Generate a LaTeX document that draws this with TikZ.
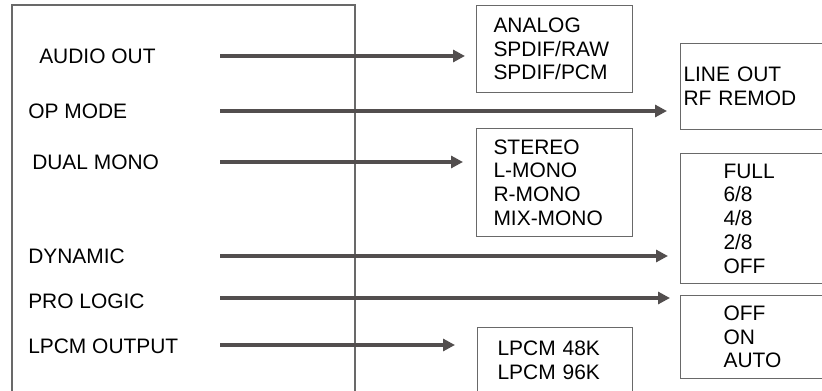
\documentclass[tikz,border=0pt]{standalone}
\usepackage{fontspec}
\setmainfont{Liberation Sans}
\definecolor{boxgray}{RGB}{105, 105, 105}
\definecolor{arrgray}{RGB}{82, 78, 78}
\usetikzlibrary{arrows.meta, positioning, calc}

\begin{document}
\begin{tikzpicture}[
  x=0.75pt, y=-0.75pt,
  font=\fontsize{15.7}{17.8}\selectfont,
  lbl/.style={anchor=west, inner sep=0pt},
  optbox/.style={draw=boxgray, line width=0.8pt, anchor=north west, align=left, inner ysep=0pt},
  arr/.style={draw=arrgray, line width=3pt, -{Triangle[length=9pt, width=9pt]}}
]
  \clip (0,0) rectangle (822,391);

  % menu frame, open at the bottom
  \draw[boxgray, line width=0.8pt] (12,400) |- (355,5) -- (355,400);

  % menu items
  \node[lbl] (audio) at (39,56)  {AUDIO OUT};
  \node[lbl] (opmode) at (28,111) {OP MODE};
  \node[lbl] (dual) at (32,162) {DUAL MONO};
  \node[lbl] (dyn) at (28,256) {DYNAMIC};
  \node[lbl] (prolog) at (28,301) {PRO LOGIC};
  \node[lbl] (lpcm) at (28,346) {LPCM OUTPUT};

  % option boxes
  \node[optbox, minimum width=117pt, minimum height=65.25pt, inner xsep=12.75pt, text width=91.5pt] (anlg) at (476,5) {
    ANALOG\\ SPDIF/RAW\\ SPDIF/PCM};
  \node[optbox, minimum width=150pt, minimum height=64.5pt, inner xsep=2.25pt, text width=145.5pt] (lineout) at (680,43) {
    LINE OUT\\ RF REMOD};
  \node[optbox, minimum width=117pt, minimum height=81pt, inner xsep=12.75pt, text width=91.5pt] (stereo) at (476,128) {
    STEREO\\ L-MONO\\ R-MONO\\ MIX-MONO};
  \node[optbox, minimum width=150pt, minimum height=97.5pt, inner xsep=32.25pt, text width=85.5pt] (full) at (680,153) {
    FULL\\ 6/8\\ 4/8\\ 2/8\\ OFF};
  \node[optbox, minimum width=150pt, minimum height=62.25pt, inner xsep=32.25pt, text width=85.5pt] (onoff) at (680,295) {
    OFF\\ ON\\ AUTO};
  \node[optbox, minimum width=116.25pt, minimum height=49.5pt, inner xsep=15pt, text width=86.25pt] (rate) at (477,327) {
    LPCM 48K\\ LPCM 96K};

  % arrows
  \coordinate (a1) at (220,56);
  \coordinate (a2) at (220,111);
  \coordinate (a3) at (220,162);
  \coordinate (a4) at (220,256);
  \coordinate (a5) at (220,298);
  \coordinate (a6) at (220,345);
  \draw[arr, shorten >=8.25pt] (a1) -- (a1 -| anlg.west);
  \draw[arr, shorten >=9.75pt] (a2) -- (a2 -| lineout.west);
  \draw[arr, shorten >=9.75pt] (a3) -- (a3 -| stereo.west);
  \draw[arr, shorten >=9pt] (a4) -- (a4 -| full.west);
  \draw[arr, shorten >=7.5pt] (a5) -- (a5 -| onoff.west);
  \draw[arr, shorten >=16.5pt] (a6) -- (a6 -| rate.west);
\end{tikzpicture}
\end{document}
